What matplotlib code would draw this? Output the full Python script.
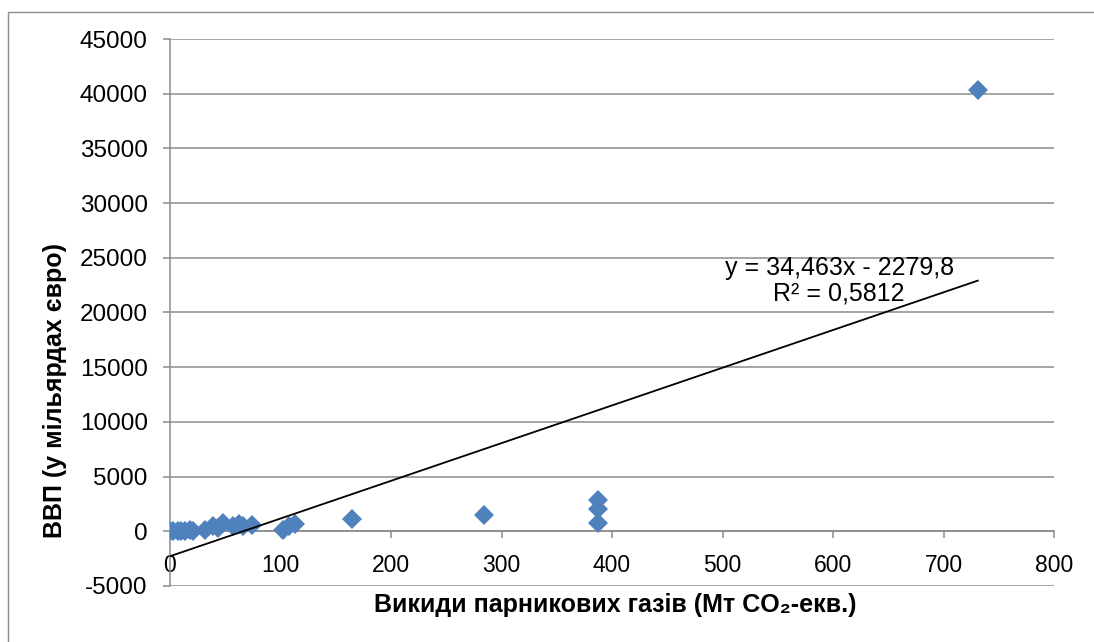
import matplotlib
matplotlib.use("Agg")
import matplotlib.pyplot as plt
from matplotlib.patches import Rectangle
import numpy as np

# Data
emissions = [0, 3, 7, 10, 14, 18, 21, 32, 39, 43, 48, 57, 62, 66, 74,
             102, 108, 113, 165, 284, 387, 387, 387, 731]
gdp = [30, 60, 40, 20, 50, 80, 60, 100, 500, 300, 800, 500, 700, 500, 600,
       150, 500, 700, 1100, 1450, 2850, 2000, 800, 40300]
trend_slope = 34.463
trend_intercept = -2279.8
equation_text = "y = 34,463x - 2279,8\nR² = 0,5812"
x_ticks = [0, 100, 200, 300, 400, 500, 600, 700, 800]
y_ticks = [-5000, 0, 5000, 10000, 15000, 20000, 25000, 30000, 35000, 40000, 45000]
x_title = "Викиди парникових газів (Мт CO₂-екв.)"
y_title = "ВВП (у мільярдах євро)"

plt.rcParams['font.family'] = ['Liberation Sans', 'DejaVu Sans']
plt.rcParams['axes.unicode_minus'] = False

fig = plt.figure(figsize=(10.94, 6.42), dpi=100)
ax = fig.add_axes([170/1094, 1-586/642, (1054-170)/1094, (586-39)/642])

grid_col = '#8c8c8c'
ax.set_xlim(0, 800)
ax.set_ylim(-5000, 45000)
ax.set_yticks(y_ticks)
ax.set_xticks(x_ticks)
ax.yaxis.grid(True, color=grid_col, linewidth=1.1)
ax.set_axisbelow(True)

for s in ['top', 'right']:
    ax.spines[s].set_visible(False)
ax.spines['bottom'].set_position(('data', 0))
ax.spines['bottom'].set_color(grid_col)
ax.spines['left'].set_color(grid_col)
ax.spines['bottom'].set_linewidth(1.1)
ax.spines['left'].set_linewidth(1.1)

ax.tick_params(axis='y', direction='out', length=5, width=1.1, color=grid_col,
               pad=11, labelsize=17.5)
ax.tick_params(axis='x', direction='out', length=5, width=1.1, color=grid_col,
               pad=11, labelsize=16.5)

# scatter points
ax.plot(emissions, gdp, linestyle='none', marker='D', markersize=10,
        color='#4f81bd', markeredgewidth=0, zorder=3)

# linear trend line
xt = np.array([0, max(emissions)])
ax.plot(xt, trend_slope * xt + trend_intercept, color='black', linewidth=1.3, zorder=4)

ax.text(0.757, 0.558, equation_text, transform=ax.transAxes, ha='center',
        va='center', fontsize=18, linespacing=1.05, zorder=5)

ax.set_ylabel(y_title, fontsize=18, fontweight='bold')
ax.yaxis.set_label_coords(-0.1165, (586-390)/547)
fig.text(615/1094, 1-605/642, x_title, ha='center', va='center', fontsize=18,
         fontweight='bold')

# outer chart border
fig.patches.append(Rectangle((8/1094, -0.05), 1.2, 1 - 12/642 + 0.05,
                             transform=fig.transFigure, fill=False,
                             edgecolor='#8c8c8c', linewidth=1.0))

fig.savefig('out.png', dpi=100)
